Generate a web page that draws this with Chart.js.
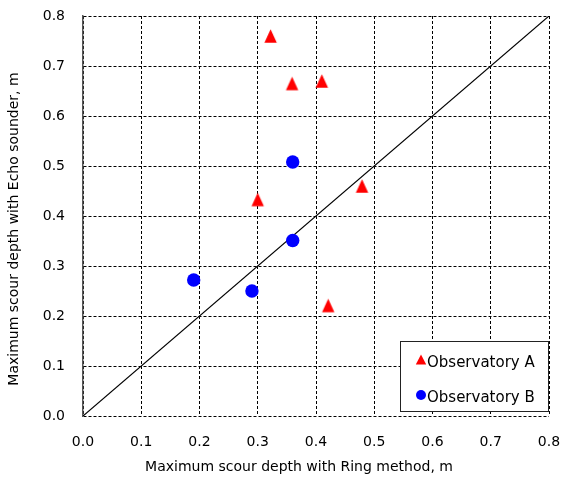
<!DOCTYPE html>
<html>
<head>
<meta charset="utf-8">
<script src="https://cdn.jsdelivr.net/npm/chart.js@4/dist/chart.umd.min.js"></script>
<style>
  body { margin: 0; background: #fff; }
  canvas { display: block; }
</style>
</head>
<body>
<canvas id="scourChart" width="561" height="477"></canvas>
<script>
// Ring method (x) vs echo sounder (y), metres
const obsA_ring = [0.322, 0.359, 0.410, 0.479, 0.300, 0.421];
const obsA_echo = [0.760, 0.665, 0.670, 0.460, 0.433, 0.221];
const obsB_ring = [0.360, 0.360, 0.190, 0.290];
const obsB_echo = [0.508, 0.351, 0.272, 0.250];
const lineEnds = [0, 0.8];
const axisTicks = [0, 0.1, 0.2, 0.3, 0.4, 0.5, 0.6, 0.7, 0.8];

const FONT = 'DejaVu Sans';
const toPoints = (xs, ys) => xs.map((x, i) => ({x: x, y: ys[i]}));

// slightly tall triangle marker, like the original
function makeTriangle(w, h, color) {
    const c = document.createElement('canvas');
    c.width = Math.ceil(w) + 2;
    c.height = Math.ceil(h) + 2;
    const g = c.getContext('2d');
    const cx = c.width / 2, cy = c.height / 2;
    g.fillStyle = color;
    g.beginPath();
    g.moveTo(cx, cy - h / 2);
    g.lineTo(cx + w / 2, cy + h / 2);
    g.lineTo(cx - w / 2, cy + h / 2);
    g.closePath();
    g.fill();
    return c;
}

document.addEventListener('DOMContentLoaded', () => {
    const ctx = document.getElementById('scourChart').getContext('2d');

    const extras = {
        id: 'extras',
        afterDraw(chart) {
            const {ctx, chartArea} = chart;
            ctx.save();
            // axis titles
            ctx.fillStyle = '#000';
            ctx.font = '14px "' + FONT + '"';
            ctx.textAlign = 'center';
            ctx.textBaseline = 'middle';
            ctx.fillText('Maximum scour depth with Ring method, m', 299, 467);
            ctx.translate(14, 229);
            ctx.rotate(-Math.PI / 2);
            ctx.fillText('Maximum scour depth with Echo sounder, m', 0, 0);
            ctx.restore();

            // legend box inside plot
            const bx = chartArea.right - 149, by = chartArea.bottom - 75;
            const bw = 148, bh = 70;
            ctx.save();
            ctx.fillStyle = '#fff';
            ctx.fillRect(bx, by, bw, bh);
            ctx.strokeStyle = '#222';
            ctx.lineWidth = 1;
            ctx.strokeRect(bx + 0.5, by + 0.5, bw, bh);
            const entries = chart.data.datasets.filter(d => d.label);
            entries.forEach((ds, i) => {
                const mx = bx + 21, my = by + 19 + i * 35;
                ctx.fillStyle = ds.backgroundColor;
                ctx.beginPath();
                if (typeof ds.pointStyle !== 'string') {
                    ctx.moveTo(mx, my - 5.5);
                    ctx.lineTo(mx + 5.2, my + 4.5);
                    ctx.lineTo(mx - 5.2, my + 4.5);
                    ctx.closePath();
                } else {
                    ctx.arc(mx, my, 5, 0, Math.PI * 2);
                }
                ctx.fill();
                ctx.fillStyle = '#000';
                ctx.font = '15px "' + FONT + '"';
                ctx.textAlign = 'left';
                ctx.textBaseline = 'middle';
                ctx.fillText(ds.label, bx + 27, my + 3);
            });
            ctx.restore();
        }
    };

    const gridCommon = {
        color: '#000',
        lineWidth: 1,
        drawTicks: false
    };

    const noPad = axis => {
        axis.paddingLeft = 0;
        axis.paddingRight = 0;
        axis.paddingTop = 0;
        axis.paddingBottom = 0;
    };

    new Chart(ctx, {
        type: 'scatter',
        data: {
            datasets: [{
                label: 'Observatory A',
                data: toPoints(obsA_ring, obsA_echo),
                pointStyle: makeTriangle(12.4, 13.3, '#ff0000'),
                pointRadius: 7,
                backgroundColor: '#ff0000',
                borderColor: '#ff0000',
                borderWidth: 0,
                order: 1
            }, {
                label: 'Observatory B',
                data: toPoints(obsB_ring, obsB_echo),
                pointStyle: 'circle',
                pointRadius: 6.7,
                backgroundColor: '#0000ff',
                borderColor: '#0000ff',
                borderWidth: 0,
                order: 2
            }, {
                type: 'line',
                data: toPoints(lineEnds, lineEnds),
                borderColor: '#000',
                borderWidth: 1.2,
                pointRadius: 0,
                fill: false,
                order: 3
            }]
        },
        options: {
            responsive: false,
            animation: false,
            layout: {padding: {top: 16, right: 12, left: 0, bottom: 0}},
            scales: {
                x: {
                    type: 'linear',
                    min: 0,
                    max: 0.8,
                    afterBuildTicks: axis => { axis.ticks = axisTicks.map(v => ({value: v})); },
                    afterFit: axis => { axis.height = 61; noPad(axis); },
                    grid: gridCommon,
                    border: {display: false, dash: [3, 2]},
                    ticks: {
                        padding: 18,
                        color: '#000',
                        font: {family: FONT, size: 14},
                        callback: v => v.toFixed(1)
                    }
                },
                y: {
                    type: 'linear',
                    min: 0,
                    max: 0.8,
                    afterBuildTicks: axis => { axis.ticks = axisTicks.map(v => ({value: v})); },
                    afterFit: axis => { axis.width = 83; noPad(axis); },
                    grid: gridCommon,
                    border: {display: true, color: '#555', width: 1.5, dash: [3, 2]},
                    ticks: {
                        padding: 18,
                        color: '#000',
                        font: {family: FONT, size: 14},
                        callback: v => v.toFixed(1)
                    }
                }
            },
            plugins: {
                legend: {display: false},
                tooltip: {enabled: false}
            }
        },
        plugins: [extras]
    });
});
</script>
</body>
</html>
